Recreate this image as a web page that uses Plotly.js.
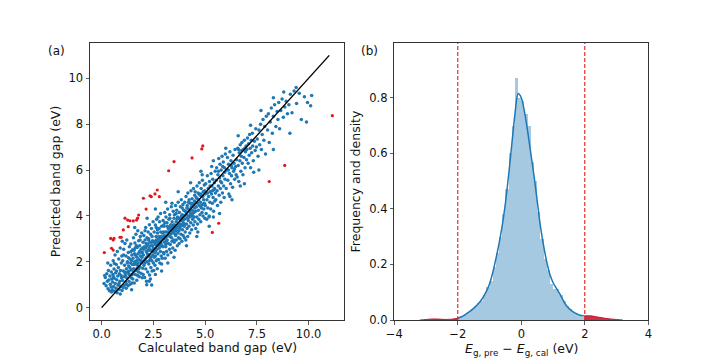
<!DOCTYPE html>
<html><head><meta charset="utf-8">
<script src="https://cdn.plot.ly/plotly-3.0.1.min.js"></script>
<style>html,body{margin:0;padding:0;background:#fff}#chart{width:720px;height:360px}</style>
</head><body><div id="chart"></div>
<script>
// ---- panel (a): calculated vs predicted band gap (eV) ----
const bluePoints = [
[0.12,1.05],[0.18,1.32],[0.22,0.95],[0.25,1.48],[0.28,1.15],[0.31,0.82],[0.33,1.62],[0.35,1.21],[0.38,0.74],[0.4,1.38],[0.42,1.02],[0.44,1.85],[0.46,0.9],[0.47,1.55],[0.48,0.68],[0.49,1.25],[0.3,1.95],[0.15,1.4],
[0.52,0.78],[0.53,1.12],[0.55,1.45],[0.56,2.05],[0.58,0.92],[0.6,1.68],[0.61,1.28],[0.63,0.71],[0.65,2.3],[0.66,1.05],[0.68,1.52],[0.7,0.85],[0.71,1.88],[0.73,1.22],[0.75,0.65],[0.76,2.45],[0.78,1.38],[0.8,0.98],[0.81,1.75],[0.83,2.12],[0.85,0.8],[0.86,1.48],[0.88,1.15],[0.9,2.6],[0.91,1.62],[0.93,0.92],[0.95,1.95],[0.96,1.3],[0.98,2.25],[0.99,0.75],[0.62,1.92],[0.72,1.6],[0.84,1.05],[0.94,1.4],[0.57,1.35],
[1.01,1.18],[1.02,2.05],[1.04,0.88],[1.05,1.6],[1.07,2.55],[1.08,1.35],[1.1,0.98],[1.11,1.85],[1.13,2.8],[1.14,1.48],[1.16,1.12],[1.18,2.25],[1.19,0.85],[1.2,1.7],[1.22,2.95],[1.23,1.28],[1.25,2.0],[1.26,1.55],[1.28,0.95],[1.29,2.4],[1.31,1.82],[1.32,1.15],[1.34,2.65],[1.35,1.42],[1.37,2.12],[1.38,1.02],[1.4,1.95],[1.41,2.78],[1.43,1.3],[1.44,1.65],[1.46,2.3],[1.47,1.08],[1.49,1.88],[1.5,2.52],[1.12,1.55],[1.24,1.95],[1.36,1.75],[1.48,1.45],[1.06,2.3],[1.17,1.38],[1.3,2.18],[1.42,2.45],[1.21,1.02],[1.33,1.6],[1.45,2.05],
[1.51,1.25],[1.52,2.15],[1.54,3.05],[1.55,1.7],[1.57,2.5],[1.58,1.08],[1.6,1.92],[1.61,2.82],[1.63,1.45],[1.64,2.28],[1.66,3.2],[1.67,1.62],[1.69,2.05],[1.7,1.2],[1.72,2.62],[1.73,1.85],[1.75,3.35],[1.76,2.35],[1.78,1.55],[1.79,2.92],[1.81,2.1],[1.82,1.35],[1.84,2.7],[1.85,1.78],[1.87,3.1],[1.88,2.25],[1.9,1.5],[1.91,2.55],[1.93,1.95],[1.94,3.25],[1.96,1.3],[1.97,2.4],[1.99,1.72],[2.0,2.85],[1.53,1.55],[1.59,2.35],[1.65,1.9],[1.71,2.2],[1.77,1.95],[1.83,2.45],[1.89,2.05],[1.95,2.2],[1.62,2.6],[1.74,1.4],[1.86,2.95],[1.98,2.6],[1.56,1.88],[1.68,2.7],[1.8,1.7],[1.92,2.05],
[2.01,1.45],[2.02,2.3],[2.04,3.15],[2.05,1.85],[2.07,2.65],[2.08,1.32],[2.1,2.95],[2.11,2.12],[2.13,3.5],[2.14,1.68],[2.16,2.45],[2.17,1.15],[2.19,3.05],[2.2,2.0],[2.22,2.78],[2.23,1.55],[2.25,3.3],[2.26,2.25],[2.28,1.9],[2.29,2.6],[2.31,3.62],[2.32,1.42],[2.34,2.85],[2.35,2.1],[2.37,3.2],[2.38,1.75],[2.4,2.5],[2.41,3.45],[2.43,2.05],[2.44,1.6],[2.46,2.92],[2.47,2.3],[2.49,3.75],[2.5,1.95],[2.03,2.55],[2.09,1.95],[2.15,2.8],[2.21,2.35],[2.27,2.95],[2.33,2.5],[2.39,2.2],[2.45,2.7],[2.06,2.05],[2.12,2.6],[2.18,2.2],[2.24,2.5],[2.3,2.3],[2.36,2.7],[2.42,2.85],[2.48,2.45],[2.18,1.0],[2.36,1.25],[2.44,3.1],[2.28,3.0],[2.1,3.35],
[2.51,2.55],[2.52,1.62],[2.54,3.3],[2.55,2.2],[2.57,2.9],[2.58,1.85],[2.6,3.6],[2.61,2.45],[2.63,3.1],[2.64,2.05],[2.66,3.85],[2.67,2.7],[2.69,1.7],[2.7,3.25],[2.72,2.35],[2.73,3.95],[2.75,2.85],[2.76,2.1],[2.78,3.45],[2.79,2.6],[2.81,1.95],[2.82,3.05],[2.84,2.45],[2.85,4.1],[2.87,2.8],[2.88,2.25],[2.9,3.55],[2.91,2.95],[2.93,2.15],[2.94,3.25],[2.96,2.65],[2.97,3.8],[2.99,2.4],[3.0,3.0],[2.53,2.85],[2.59,2.75],[2.65,2.95],[2.71,2.75],[2.77,3.1],[2.83,2.7],[2.89,3.1],[2.95,3.05],[2.56,2.4],[2.62,2.85],[2.68,2.55],[2.74,3.0],[2.8,2.9],[2.86,3.3],[2.92,2.7],[2.98,3.3],[2.6,1.45],[2.7,2.1],[2.9,1.9],[2.64,3.5],[2.8,3.75],
[3.01,2.35],[3.02,3.55],[3.04,2.85],[3.05,4.15],[3.07,2.15],[3.08,3.3],[3.1,2.65],[3.11,3.95],[3.13,3.1],[3.14,2.45],[3.16,3.7],[3.17,2.95],[3.19,4.3],[3.2,2.3],[3.22,3.45],[3.23,2.8],[3.25,3.85],[3.26,3.15],[3.28,2.55],[3.29,4.05],[3.31,3.35],[3.32,2.75],[3.34,3.6],[3.35,2.4],[3.37,4.4],[3.38,3.05],[3.4,2.9],[3.41,3.75],[3.43,3.25],[3.44,2.6],[3.46,4.2],[3.47,3.5],[3.49,2.95],[3.5,3.9],[3.03,3.15],[3.09,3.05],[3.15,3.3],[3.21,3.15],[3.27,3.5],[3.33,3.2],[3.39,3.45],[3.45,3.35],[3.06,3.7],[3.12,2.9],[3.18,3.55],[3.24,3.3],[3.3,3.1],[3.36,3.6],[3.42,3.5],[3.48,3.6],[3.2,1.95],[3.4,4.55],
[3.51,2.85],[3.52,4.05],[3.54,3.4],[3.55,2.5],[3.57,4.45],[3.58,3.15],[3.6,3.75],[3.61,2.95],[3.63,4.25],[3.64,3.5],[3.66,2.7],[3.67,3.95],[3.69,3.25],[3.7,4.6],[3.72,3.05],[3.73,3.65],[3.75,2.8],[3.76,4.15],[3.78,3.45],[3.79,3.0],[3.81,4.4],[3.82,3.8],[3.84,3.2],[3.85,4.7],[3.87,3.6],[3.88,2.9],[3.9,4.05],[3.91,3.4],[3.93,4.5],[3.94,3.15],[3.96,3.85],[3.97,4.25],[3.99,3.55],[4.0,3.05],[3.53,3.6],[3.59,3.45],[3.65,3.85],[3.71,3.6],[3.77,3.9],[3.83,3.55],[3.89,3.8],[3.95,3.7],[3.56,3.2],[3.62,3.35],[3.68,3.55],[3.74,3.35],[3.8,3.65],[3.86,4.0],[3.92,3.95],[3.98,4.0],
[4.01,3.85],[4.02,4.6],[4.04,3.3],[4.05,4.2],[4.07,2.95],[4.08,4.85],[4.1,3.65],[4.11,4.05],[4.13,3.45],[4.14,4.45],[4.16,3.1],[4.17,5.0],[4.19,3.8],[4.2,4.3],[4.22,3.55],[4.23,4.7],[4.25,3.95],[4.26,3.25],[4.28,4.55],[4.29,4.1],[4.31,3.7],[4.32,5.1],[4.34,4.0],[4.35,3.4],[4.37,4.75],[4.38,4.25],[4.4,3.85],[4.41,4.5],[4.43,3.6],[4.44,5.2],[4.46,4.15],[4.47,3.95],[4.49,4.65],[4.5,4.35],[4.03,4.0],[4.09,4.15],[4.15,3.9],[4.21,4.0],[4.27,4.25],[4.33,4.4],[4.39,4.1],[4.45,4.5],[4.12,4.35],[4.24,4.2],[4.36,4.55],
[4.51,3.75],[4.52,5.05],[4.54,4.2],[4.55,3.45],[4.57,4.8],[4.58,4.4],[4.6,3.95],[4.61,5.3],[4.63,4.55],[4.64,3.65],[4.66,5.0],[4.67,4.25],[4.69,4.7],[4.7,3.85],[4.72,5.45],[4.73,4.45],[4.75,4.05],[4.76,4.9],[4.78,4.6],[4.79,3.75],[4.81,5.2],[4.82,4.35],[4.84,4.85],[4.85,4.15],[4.87,5.55],[4.88,4.5],[4.9,4.0],[4.91,5.05],[4.93,4.7],[4.94,4.3],[4.96,5.35],[4.97,4.55],[4.99,3.9],[5.0,4.95],[4.53,4.6],[4.62,4.75],[4.71,4.95],[4.8,4.95],[4.89,4.85],[4.98,5.1],[4.65,3.3],[4.86,5.8],
[5.01,4.45],[5.03,5.4],[5.05,4.1],[5.07,5.0],[5.09,4.7],[5.11,5.75],[5.13,4.35],[5.15,5.2],[5.17,4.85],[5.19,3.95],[5.21,5.5],[5.23,4.6],[5.25,5.05],[5.27,4.3],[5.29,5.85],[5.31,4.95],[5.33,5.3],[5.35,4.55],[5.37,5.6],[5.39,4.8],[5.41,4.2],[5.43,5.15],[5.45,5.45],[5.47,4.65],[5.49,5.95],[5.5,5.0],[5.12,5.0],[5.24,5.3],[5.36,5.1],[5.46,5.2],[5.08,3.85],[5.32,6.15],[5.2,4.0],[5.4,3.95],
[5.52,4.7],[5.54,5.55],[5.56,6.1],[5.58,5.1],[5.6,4.45],[5.62,5.8],[5.64,5.3],[5.66,6.5],[5.68,4.9],[5.7,5.65],[5.72,6.25],[5.74,5.2],[5.76,4.6],[5.78,6.0],[5.8,5.45],[5.82,6.6],[5.84,5.0],[5.86,5.75],[5.88,6.35],[5.9,5.3],[5.92,4.8],[5.94,6.1],[5.96,5.6],[5.98,6.7],[5.65,5.95],[5.85,6.15],[5.75,5.5],[5.95,5.9],
[6.02,5.2],[6.05,6.0],[6.08,6.55],[6.1,5.55],[6.13,6.25],[6.15,4.95],[6.18,5.85],[6.2,6.8],[6.23,5.4],[6.25,6.4],[6.28,5.75],[6.3,6.1],[6.33,5.25],[6.35,6.65],[6.38,5.95],[6.4,6.3],[6.43,5.6],[6.45,6.9],[6.48,6.15],[6.5,5.8],[6.12,6.0],[6.27,6.2],[6.42,6.05],[6.2,4.85],
[6.52,6.45],[6.55,5.7],[6.58,6.95],[6.6,6.2],[6.63,5.5],[6.65,6.75],[6.68,6.4],[6.7,7.1],[6.73,5.95],[6.75,6.6],[6.78,7.2],[6.8,6.3],[6.83,5.8],[6.85,6.9],[6.88,6.55],[6.9,7.3],[6.93,6.1],[6.95,6.8],[6.98,7.05],[7.0,6.45],[6.62,6.9],[6.77,6.85],[6.92,6.95],[6.7,5.3],
[7.02,6.9],[7.05,7.4],[7.08,6.3],[7.1,7.15],[7.13,6.65],[7.15,7.55],[7.18,6.95],[7.2,6.1],[7.23,7.3],[7.25,6.75],[7.28,7.6],[7.3,7.05],[7.33,6.4],[7.38,7.25],[7.42,6.85],[7.45,7.8],[7.48,7.0],[7.35,5.9],
[7.52,7.35],[7.56,6.6],[7.6,7.75],[7.64,7.1],[7.68,8.0],[7.72,6.9],[7.76,7.55],[7.8,8.2],[7.84,7.3],[7.88,7.9],[7.92,6.7],[7.96,8.35],
[8.02,7.75],[8.06,8.45],[8.1,7.2],[8.15,8.1],[8.2,8.7],[8.25,7.6],[8.3,8.35],[8.36,8.85],[8.42,7.9],[8.48,8.55],
[8.52,8.2],[8.56,8.95],[8.6,7.8],[8.66,8.6],[8.72,9.1],[8.78,8.3],[8.85,8.75],[8.92,9.0],[8.98,8.45],
[9.05,8.85],[9.12,9.3],[9.2,8.5],[9.3,9.45],[9.42,8.9],[9.55,9.35],[9.65,8.2],[9.8,9.2],[9.95,8.95],[10.15,9.25],
[1.6,2.0],[1.9,2.4],[2.2,2.7],[2.5,2.6],[2.7,3.4],[3.0,3.6],[3.3,3.9],[3.6,4.1],[3.9,4.35],[4.2,4.6],[4.5,4.9],[1.3,1.5],[1.7,1.7],[2.3,2.05],[2.6,2.25],[3.1,2.75],[3.5,3.3],[4.0,3.65],[4.4,4.0],[4.8,4.4],
[2.3,1.15],[2.9,1.6],[3.5,2.2],[4.1,2.7],[4.6,3.1],[5.2,3.55],[5.7,4.1],[6.3,4.7],[6.9,5.4],[7.6,6.0],[8.3,6.9],[9.1,7.6],[9.9,8.1],[2.42,0.99],[1.45,0.78],[0.9,0.6],
[1.0,2.9],[1.6,3.5],[2.2,3.9],[2.6,4.3],[3.1,4.6],[3.7,5.05],[4.3,5.45],[4.8,5.95],[5.4,6.4],[6.0,6.95],[6.6,7.5],[7.2,7.95],[7.7,8.6],[8.3,9.15],[8.8,9.4],[9.4,9.6],[10.1,8.8]
];
const outlierCalc = [0.13,0.44,0.56,0.6,0.48,0.56,0.89,0.95,1.05,1.13,1.26,1.37,1.53,1.29,1.74,1.79,1.69,2.02,2.15,2.34,2.4,2.58,2.69,2.79,3.24,3.5,4.37,4.84,4.89,5.66,5.35,8.1,8.85,11.15];
const outlierPred = [2.4,3.02,2.95,3.02,2.59,2.51,3.07,3.07,3.39,3.9,3.82,3.79,3.78,3.53,3.9,4.04,3.82,4.77,4.3,4.88,4.84,4.96,5.13,4.84,5.97,6.37,6.53,6.92,7.05,3.68,3.28,5.5,6.2,8.37];
const identityLine = [0, 11];
const xTicksA = [0, 2.5, 5, 7.5, 10];
const xTickTextA = ["0.0", "2.5", "5.0", "7.5", "10.0"];
const yTicksA = [0, 2, 4, 6, 8, 10];

// ---- panel (b): error distribution ----
const binCenters = [-1.95,-1.85,-1.75,-1.65,-1.55,-1.45,-1.35,-1.25,-1.15,-1.05,-0.95,-0.85,-0.75,-0.65,-0.55,-0.45,-0.35,-0.25,-0.15,-0.05,0.05,0.15,0.25,0.35,0.45,0.55,0.65,0.75,0.85,0.95,1.05,1.15,1.25,1.35,1.45,1.55,1.65,1.75,1.85,1.95];
const binHeights = [0.01,0.015,0.02,0.03,0.035,0.05,0.06,0.07,0.09,0.12,0.14,0.19,0.24,0.3,0.38,0.47,0.6,0.7,0.87,0.8,0.79,0.74,0.7,0.57,0.5,0.39,0.29,0.22,0.18,0.13,0.11,0.11,0.09,0.07,0.05,0.04,0.03,0.025,0.015,0.01];
const kdeX = [-3.2,-3.0,-2.8,-2.6,-2.4,-2.2,-2.0,-1.9,-1.8,-1.7,-1.6,-1.5,-1.4,-1.3,-1.2,-1.1,-1.0,-0.9,-0.8,-0.7,-0.6,-0.5,-0.4,-0.3,-0.2,-0.1,0.0,0.1,0.2,0.3,0.4,0.5,0.6,0.7,0.8,0.9,1.0,1.1,1.2,1.3,1.4,1.5,1.6,1.7,1.8,1.9,2.0,2.2,2.4,2.6,2.8,3.0,3.2];
const kdeY = [0.0,0.002,0.004,0.0035,0.002,0.003,0.006,0.011,0.017,0.025,0.033,0.042,0.053,0.066,0.082,0.103,0.13,0.17,0.22,0.275,0.34,0.42,0.52,0.63,0.74,0.815,0.8,0.75,0.68,0.6,0.52,0.43,0.34,0.27,0.21,0.165,0.135,0.115,0.097,0.075,0.055,0.042,0.032,0.025,0.019,0.016,0.015,0.015,0.011,0.007,0.004,0.002,0.0];
const cutoffs = [-2, 2];
const xTicksB = [-4, -2, 0, 2, 4];
const xTickTextB = ["\u22124", "\u22122", "0", "2", "4"];
const yTicksB = [0, 0.2, 0.4, 0.6, 0.8];
const yTickTextB = ["0.0", "0.2", "0.4", "0.6", "0.8"];

const C0 = '#1f77b4';
const FONT = 'DejaVu Sans, sans-serif';

const calcX = bluePoints.map(p => p[0]);
const predY = bluePoints.map(p => p[1]);

const inX = [], inY = [], lX = [], lY = [], rX = [], rY = [];
kdeX.forEach((x, i) => {
  if (x >= cutoffs[0] && x <= cutoffs[1]) { inX.push(x); inY.push(kdeY[i]); }
  if (x <= cutoffs[0]) { lX.push(x); lY.push(kdeY[i]); }
  if (x >= cutoffs[1]) { rX.push(x); rY.push(kdeY[i]); }
});

const traces = [
  {type:'scatter', mode:'markers', x: calcX, y: predY, xaxis:'x', yaxis:'y',
   marker:{color:C0, size:3.5, line:{width:0}}, hoverinfo:'skip'},
  {type:'scatter', mode:'markers', x: outlierCalc, y: outlierPred, xaxis:'x', yaxis:'y',
   marker:{color:'#e0191e', size:3.2, line:{width:0}}, hoverinfo:'skip'},
  {type:'scatter', mode:'lines', x: identityLine, y: identityLine, xaxis:'x', yaxis:'y',
   line:{color:'#000', width:1.4}, hoverinfo:'skip'},
  {type:'bar', x: binCenters, y: binHeights, width: 0.1, xaxis:'x2', yaxis:'y2',
   marker:{color:'rgba(31,119,180,0.4)', line:{width:0}}, hoverinfo:'skip'},
  {type:'scatter', mode:'lines', x: lX, y: lY, xaxis:'x2', yaxis:'y2', fill:'tozeroy',
   fillcolor:'rgba(200,10,40,0.85)', line:{color:'rgba(200,10,40,0.9)', width:1, shape:'spline'}, hoverinfo:'skip'},
  {type:'scatter', mode:'lines', x: rX, y: rY, xaxis:'x2', yaxis:'y2', fill:'tozeroy',
   fillcolor:'rgba(200,10,40,0.85)', line:{color:'rgba(200,10,40,0.9)', width:1, shape:'spline'}, hoverinfo:'skip'},
  {type:'scatter', mode:'lines', x: inX, y: inY, xaxis:'x2', yaxis:'y2',
   line:{color:C0, width:1.5, shape:'spline', smoothing:0.8}, hoverinfo:'skip'}
];

const TICK = 11.5, TITLE = 12.5;
const axBase = {showline:true, mirror:true, linecolor:'#333', linewidth:1, ticks:'outside',
  ticklen:3.5, tickwidth:0.8, tickcolor:'#333', showgrid:false, zeroline:false,
  tickfont:{family:FONT, size:TICK, color:'#111'}};
const tfont = {family:FONT, size:TITLE, color:'#111'};

const layout = {
  width:720, height:360, margin:{l:0, r:0, t:0, b:0},
  paper_bgcolor:'#fff', plot_bgcolor:'#fff', showlegend:false, bargap:0,
  font:{family:FONT, color:'#111'},
  xaxis: Object.assign({}, axBase, {domain:[0.125, 0.478], range:[-0.56, 11.72],
    tickmode:'array', tickvals:xTicksA, ticktext:xTickTextA, anchor:'y'}),
  yaxis: Object.assign({}, axBase, {domain:[0.111, 0.8806], range:[-0.54, 11.54],
    tickmode:'array', tickvals:yTicksA, anchor:'x',
    title:{text:'Predicted band gap (eV)', font:tfont, standoff:5}}),
  xaxis2: Object.assign({}, axBase, {domain:[0.5476, 0.9004], range:[-4, 4],
    tickmode:'array', tickvals:xTicksB, ticktext:xTickTextB, anchor:'y2'}),
  yaxis2: Object.assign({}, axBase, {domain:[0.111, 0.8806], range:[0, 0.997],
    tickmode:'array', tickvals:yTicksB, ticktext:yTickTextB, anchor:'x2',
    title:{text:'Frequency and density', font:tfont, standoff:5}}),
  shapes: cutoffs.map(c => ({type:'line', xref:'x2', yref:'paper', x0:c, x1:c, y0:0.111, y1:0.8806,
    line:{color:'#e31a1c', width:1.1, dash:'4px,2px'}})),
  annotations: [
    {text:'Calculated band gap (eV)', xref:'paper', yref:'paper', x:217/720, y:1-347/360, xanchor:'center', yanchor:'middle', showarrow:false, font:tfont},
    {text:'<i>E</i><sub>g, pre</sub> \u2212 <i>E</i><sub>g, cal</sub> (eV)', xref:'paper', yref:'paper', x:521/720, y:1-349/360, xanchor:'center', yanchor:'middle', showarrow:false, font:tfont},
    {text:'(a)', xref:'paper', yref:'paper', x:56/720, y:1-51/360, xanchor:'center', yanchor:'middle', showarrow:false, font:{family:FONT, size:12, color:'#111'}},
    {text:'(b)', xref:'paper', yref:'paper', x:370/720, y:1-51/360, xanchor:'center', yanchor:'middle', showarrow:false, font:{family:FONT, size:12, color:'#111'}}
  ]
};

Plotly.newPlot('chart', traces, layout, {staticPlot:true, displayModeBar:false});
</script>
</body></html>
